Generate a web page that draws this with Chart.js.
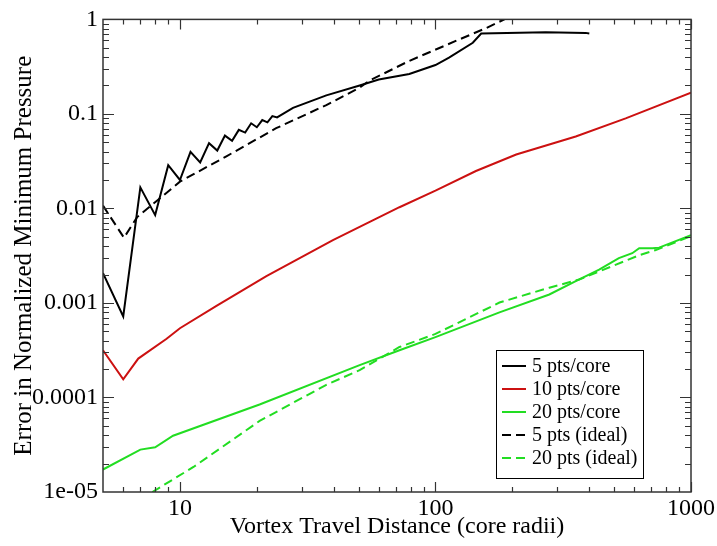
<!DOCTYPE html>
<html>
<head>
<meta charset="utf-8">
<script src="https://cdn.jsdelivr.net/npm/chart.js@4.4.1/dist/chart.umd.min.js"></script>
<style>
  html, body { margin: 0; padding: 0; background: #fff; }
  #wrap { width: 717px; height: 546px; }
</style>
</head>
<body>
<div id="wrap"><canvas id="c"></canvas></div>
<script>
// 5 pts/core (solid black)
let black5X = [5, 6, 7, 8, 9, 10, 11, 12, 13, 14, 15, 16, 17, 18, 19, 20, 21, 22, 23, 24, 27.7, 37.4, 50.5, 60, 79, 100, 113, 140, 151, 270, 387, 400];
let black5Y = [0.00207, 0.00072, 0.0167, 0.0085, 0.0287, 0.020, 0.0396, 0.0306, 0.049, 0.041, 0.059, 0.052, 0.0678, 0.0635, 0.0796, 0.0723, 0.0861, 0.0815, 0.0948, 0.0917, 0.116, 0.157, 0.20, 0.231, 0.265, 0.329, 0.394, 0.566, 0.71, 0.73, 0.72, 0.71];

// 10 pts/core (red)
let red10X = [5, 6, 6.87, 8.87, 10, 13.9, 21.8, 39.7, 50.5, 72.3, 100, 144, 207, 354, 555, 1000];
let red10Y = [0.000316, 0.000156, 0.000258, 0.000418, 0.00054, 0.00093, 0.00192, 0.00462, 0.00638, 0.0103, 0.0154, 0.0249, 0.0372, 0.0577, 0.0897, 0.168];

// 20 pts/core (green)
let green20X = [5, 7, 8, 9.4, 20.5, 50.5, 72.3, 100, 178, 279, 354, 437, 522, 589, 627, 706, 750, 1000];
let green20Y = [1.73e-5, 2.81e-5, 2.97e-5, 3.94e-5, 8.43e-5, 2.2e-4, 3.16e-4, 4.35e-4, 7.94e-4, 1.23e-3, 1.7e-3, 2.25e-3, 2.98e-3, 3.36e-3, 3.79e-3, 3.8e-3, 3.85e-3, 5.2e-3];

// 5 pts (ideal) dashed black
let ideal5X = [5, 6.04, 6.8, 8.2, 10, 15.2, 23.8, 37.4, 50.5, 55.2, 79, 124, 158, 186, 200];
let ideal5Y = [0.0107, 0.0049, 0.0081, 0.0123, 0.0192, 0.0356, 0.0706, 0.124, 0.19, 0.225, 0.364, 0.614, 0.81, 1.0, 1.15];

// 20 pts (ideal) dashed green
let ideal20X = [7.8, 11.3, 20.5, 37.4, 50.5, 72.3, 100, 178, 279, 365, 627, 728, 1000];
let ideal20Y = [1e-5, 1.84e-5, 5.65e-5, 1.36e-4, 1.95e-4, 3.42e-4, 4.7e-4, 1.01e-3, 1.45e-3, 1.77e-3, 3.2e-3, 3.63e-3, 5.1e-3];

let xTickValues = [10, 100, 1000];
let xTickLabels = ['10', '100', '1000'];
let yTickValues = [1e-5, 1e-4, 1e-3, 1e-2, 1e-1, 1];
let yTickLabels = ['1e-05', '0.0001', '0.001', '0.01', '0.1', '1'];

const SERIF = '"Liberation Serif", "Times New Roman", serif';

function pts(xs, ys) {
  return xs.map((x, i) => ({ x: x, y: ys[i] }));
}

// inside tick marks on all four sides + frame
const frameTicks = {
  id: 'frameTicks',
  afterDatasetsDraw(chart) {
    const ctx = chart.ctx;
    const a = chart.chartArea;
    const xs = chart.scales.x, ys = chart.scales.y;
    ctx.save();
    ctx.strokeStyle = '#333';
    ctx.lineWidth = 1.5;
    ctx.strokeRect(a.left, a.top, a.right - a.left, a.bottom - a.top);
    ctx.lineWidth = 1.2;
    ctx.beginPath();
    for (let e = 0; e <= 3; e++) {
      for (let m = 1; m <= 9; m++) {
        let v = m * Math.pow(10, e);
        if (v <= xs.min || v > xs.max) continue;
        let px = Math.round(xs.getPixelForValue(v)) + 0.5;
        let len = m === 1 ? 10 : 5;
        ctx.moveTo(px, a.bottom); ctx.lineTo(px, a.bottom - len);
        ctx.moveTo(px, a.top); ctx.lineTo(px, a.top + len);
      }
    }
    for (let e = -5; e <= 0; e++) {
      for (let m = 1; m <= 9; m++) {
        let v = m * Math.pow(10, e);
        if (v <= ys.min || v >= ys.max) continue;
        let py = Math.round(ys.getPixelForValue(v)) + 0.5;
        let len = m === 1 ? 11 : 6;
        ctx.moveTo(a.left, py); ctx.lineTo(a.left + len, py);
        ctx.moveTo(a.right, py); ctx.lineTo(a.right - len, py);
      }
    }
    ctx.stroke();
    ctx.restore();
  }
};

// boxed legend inside the plot, lower right
const boxLegend = {
  id: 'boxLegend',
  afterDraw(chart) {
    const ctx = chart.ctx;
    const a = chart.chartArea;
    const w = 147, h = 128;
    const left = a.right - 48 - w, top = a.bottom - 14 - h;
    ctx.save();
    ctx.fillStyle = '#fff';
    ctx.fillRect(left, top, w, h);
    ctx.strokeStyle = '#000';
    ctx.lineWidth = 1;
    ctx.strokeRect(left + 0.5, top + 0.5, w, h);
    ctx.font = '20px ' + SERIF;
    ctx.textBaseline = 'middle';
    chart.data.datasets.forEach((ds, i) => {
      const y = top + 16 + i * 23;
      ctx.beginPath();
      ctx.strokeStyle = ds.borderColor;
      ctx.lineWidth = 2;
      ctx.setLineDash(ds.borderDash || []);
      ctx.moveTo(left + 6, y);
      ctx.lineTo(left + 30, y);
      ctx.stroke();
      ctx.setLineDash([]);
      ctx.fillStyle = '#000';
      ctx.fillText(ds.label, left + 36, y + 1);
    });
    ctx.restore();
  }
};

const lineDefaults = { fill: false, pointRadius: 0, tension: 0, borderWidth: 2 };

new Chart(document.getElementById('c'), {
  type: 'line',
  data: {
    datasets: [
      Object.assign({ label: '5 pts/core', data: pts(black5X, black5Y), borderColor: '#000000' }, lineDefaults),
      Object.assign({ label: '10 pts/core', data: pts(red10X, red10Y), borderColor: '#cc1111' }, lineDefaults),
      Object.assign({ label: '20 pts/core', data: pts(green20X, green20Y), borderColor: '#22dd22' }, lineDefaults),
      Object.assign({ label: '5 pts (ideal)', data: pts(ideal5X, ideal5Y), borderColor: '#000000', borderDash: [9, 5] }, lineDefaults),
      Object.assign({ label: '20 pts (ideal)', data: pts(ideal20X, ideal20Y), borderColor: '#22dd22', borderDash: [9, 5] }, lineDefaults)
    ]
  },
  options: {
    responsive: true,
    maintainAspectRatio: false,
    animation: false,
    layout: { padding: { left: 0, right: 25, top: 13, bottom: 0 } },
    plugins: { legend: { display: false }, tooltip: { enabled: false } },
    scales: {
      x: {
        type: 'logarithmic',
        min: 5,
        max: 1000,
        grid: { display: false, drawTicks: false, tickLength: 0 },
        border: { display: false },
        afterBuildTicks: (s) => { s.ticks = xTickValues.map(v => ({ value: v })); },
        afterFit: (s) => { s.height = 54; },
        ticks: {
          color: '#000',
          padding: 2,
          maxRotation: 0,
          autoSkip: false,
          font: { family: SERIF, size: 24 },
          callback: (v) => xTickLabels[xTickValues.indexOf(v)]
        },
        title: {
          display: true,
          text: 'Vortex Travel Distance (core radii)',
          color: '#000',
          font: { family: SERIF, size: 24 },
          padding: { top: 0, bottom: 5 }
        }
      },
      y: {
        type: 'logarithmic',
        min: 1e-5,
        max: 1,
        grid: { display: false, drawTicks: false, tickLength: 0 },
        border: { display: false },
        afterBuildTicks: (s) => { s.ticks = yTickValues.map(v => ({ value: v })); },
        afterFit: (s) => { s.width = 103; },
        ticks: {
          color: '#000',
          padding: 5,
          autoSkip: false,
          font: { family: SERIF, size: 24 },
          callback: (v) => yTickLabels[yTickValues.indexOf(v)]
        },
        title: {
          display: true,
          text: 'Error in Normalized Minimum Pressure',
          color: '#000',
          font: { family: SERIF, size: 25 },
          padding: { top: 9, bottom: 0 }
        }
      }
    }
  },
  plugins: [frameTicks, boxLegend]
});
</script>
</body>
</html>
